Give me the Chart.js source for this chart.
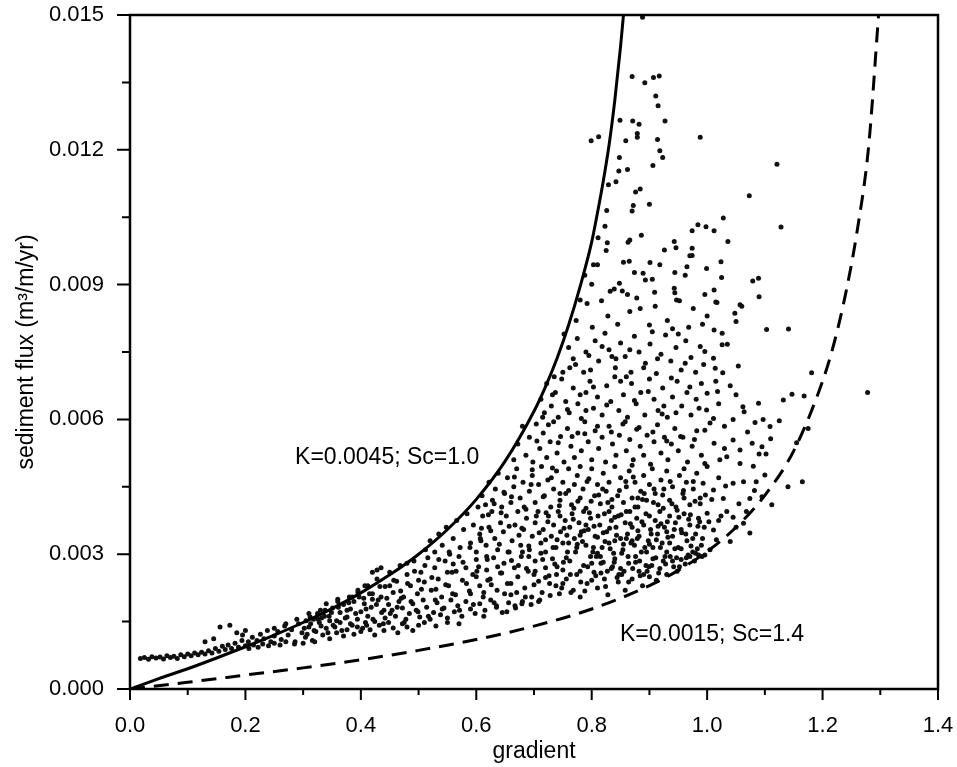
<!DOCTYPE html>
<html>
<head>
<meta charset="utf-8">
<title>sediment flux vs gradient</title>
<script src="https://cdn.jsdelivr.net/npm/chart.js@4.4.1/dist/chart.umd.min.js"></script>
<style>
  html, body { margin: 0; padding: 0; background: #fff; }
  #wrap { width: 957px; height: 767px; }
</style>
</head>
<body>
<div id="wrap"><canvas id="chart" width="957" height="767"></canvas></div>
<script>
// axis ticks
const gradientTicks = [0, 0.2, 0.4, 0.6, 0.8, 1.0, 1.2, 1.4];
const fluxTicks = [0, 0.003, 0.006, 0.009, 0.012, 0.015];

// model curves, flux in 1e-3 m3/m/yr
const fastGradient = [0, 0.05, 0.1, 0.15, 0.2, 0.25, 0.3, 0.35, 0.4, 0.45, 0.5, 0.55, 0.6, 0.65, 0.7, 0.72, 0.74, 0.76, 0.78, 0.8, 0.81, 0.82, 0.83, 0.84, 0.85, 0.855];
const fastFlux = [0, 0.23, 0.45, 0.69, 0.94, 1.2, 1.48, 1.79, 2.14, 2.54, 3.0, 3.55, 4.22, 5.07, 6.18, 6.73, 7.36, 8.1, 8.96, 9.95, 10.6, 11.3, 12.1, 13.1, 14.3, 15.0];
const slowGradient = [0, 0.1, 0.2, 0.3, 0.4, 0.5, 0.6, 0.7, 0.8, 0.9, 0.95, 1.0, 1.05, 1.1, 1.15, 1.2, 1.22, 1.24, 1.26, 1.28, 1.297];
const slowFlux = [0, 0.15, 0.31, 0.47, 0.65, 0.86, 1.1, 1.4, 1.78, 2.3, 2.64, 3.06, 3.6, 4.31, 5.3, 6.85, 7.7, 8.8, 10.2, 12.1, 15.0];

// measured points [gradient, flux in 1e-3 m3/m/yr]
const observed = [
  // sparse top
  [0.888,14.95],[0.870,13.63],[0.892,13.49],[0.907,13.61],[0.917,13.64],[0.911,13.2],[0.915,12.98],[0.849,12.66],[0.871,12.64],[0.882,12.57],
  [0.927,12.64],[0.799,12.2],[0.812,12.29],[0.859,12.2],[0.879,12.36],[0.879,12.28],[0.914,12.23],[0.988,12.28],[0.918,11.98],[0.923,11.83],
  [0.848,11.83],[0.847,11.53],[0.862,11.56],[0.906,11.65],[1.121,11.68],[0.829,11.22],[0.842,11.29],[0.876,11.06],[0.884,11.13],[1.073,10.98],
  [0.826,10.65],[0.870,10.64],[0.872,10.76],[0.900,10.79],[0.823,10.3],[1.028,10.48],[0.984,10.33],[0.998,10.29],[1.012,10.2],[1.128,10.28],
  [0.811,10.04],[0.827,9.93],[0.866,9.99],[0.863,9.94],[0.886,10.1],[0.943,9.96],[0.946,9.82],[0.974,10.2],[0.974,9.81],[0.974,9.65],
  [1.036,9.96],[0.926,9.77],[0.825,9.76],
  // 9 - 10
  [0.803,9.44],[0.855,9.5],[0.865,9.52],[0.901,9.49],[0.918,9.44],[0.965,9.4],[0.999,9.36],[1.024,9.51],[0.97,9.64],[0.874,9.27],
  [0.889,9.25],[0.893,9.1],[0.905,9.12],[0.944,9.27],[0.962,9.21],[1.025,9.16],[1.079,9.08],[1.089,9.14],[0.810,9.44],[0.788,9.21],
  [0.800,9.01],[0.848,9.03],[0.839,8.9],[0.853,8.86],[0.909,8.83],[0.943,8.92],[0.944,8.82],[0.996,8.78],[1.012,8.88],[1.09,8.73],[0.947,8.66],
  // 8 - 9
  [1.015,8.61],[1.06,8.52],[1.048,8.36],[1.05,8.18],[1.012,7.99],[1.026,7.92],[1.103,8.0],[1.141,8.01],
  [0.78,8.66],[0.792,8.58],[0.817,8.64],[0.828,8.3],[0.845,8.12],[0.866,8.4],[0.884,8.47],[0.878,8.7],[0.91,8.52],[0.931,8.2],
  [0.952,8.64],[0.976,8.47],[0.968,8.05],[1.0,8.3],[1.017,8.6],[1.057,8.55],[0.773,8.2],[0.801,8.05],[0.9,8.1],[0.94,8.02],[0.992,8.12],[0.832,8.85],[0.862,8.78],
  // 7 - 8
  [0.752,7.9],[0.76,7.6],[0.768,7.35],[0.775,7.8],[0.79,7.5],[0.798,7.1],[0.806,7.75],[0.812,7.3],[0.823,7.92],[0.83,7.55],
  [0.841,7.15],[0.85,7.7],[0.858,7.4],[0.868,7.05],[0.874,7.85],[0.882,7.5],[0.893,7.25],[0.901,7.68],[0.912,7.02],[0.92,7.45],
  [0.928,7.88],[0.937,7.3],[0.946,7.6],[0.955,7.1],[0.963,7.75],[0.972,7.38],[0.98,7.05],[0.988,7.62],[0.996,7.51],[1.011,7.36],
  [1.026,7.66],[1.035,7.67],[1.014,7.14],[1.027,7.04],[1.054,7.19],[0.905,7.95],[0.786,7.05],[0.762,7.15],[0.835,7.4],[0.95,7.9],[1.181,7.04],
  // 6 - 7
  [0.712,6.45],[0.718,6.15],[0.722,6.8],[0.73,6.3],[0.737,6.6],[0.742,6.05],[0.748,6.9],[0.755,6.4],[0.761,6.15],[0.768,6.7],
  [0.776,6.35],[0.782,6.02],[0.79,6.6],[0.797,6.85],[0.803,6.25],[0.81,6.5],[0.818,6.1],[0.826,6.75],[0.833,6.4],[0.84,6.95],
  [0.847,6.2],[0.855,6.55],[0.862,6.05],[0.869,6.8],[0.877,6.35],[0.885,6.6],[0.892,6.1],[0.9,6.9],[0.908,6.45],[0.915,6.2],
  [0.923,6.7],[0.931,6.05],[0.94,6.5],[0.948,6.85],[0.956,6.3],[0.965,6.6],[0.972,6.1],[0.981,6.45],[0.99,6.8],[1.0,6.58],
  [1.018,6.62],[1.04,6.75],[1.089,6.36],[1.062,6.28],[1.064,6.17],[0.999,6.21],[1.011,6.02],[1.045,6.0],[1.132,6.43],[1.147,6.56],
  [1.168,6.52],[0.735,6.95],[0.79,6.2],[0.86,6.95],[0.925,6.3],[1.02,6.35],[1.278,6.6],
  // 5 - 6
  [0.665,5.1],[0.672,5.45],[0.68,5.85],[0.686,5.2],[0.692,5.6],[0.698,5.05],[0.704,5.9],[0.71,5.35],[0.716,5.7],[0.722,5.15],
  [0.728,5.5],[0.734,5.95],[0.74,5.25],[0.746,5.62],[0.752,5.05],[0.758,5.8],[0.764,5.4],[0.77,5.15],[0.776,5.7],[0.782,5.3],
  [0.788,5.95],[0.794,5.5],[0.8,5.1],[0.806,5.75],[0.812,5.35],[0.818,5.6],[0.824,5.05],[0.83,5.85],[0.836,5.45],[0.842,5.2],
  [0.848,5.65],[0.854,5.9],[0.86,5.3],[0.866,5.55],[0.872,5.1],[0.878,5.78],[0.884,5.4],[0.89,5.2],[0.896,5.65],[0.902,5.0],
  [0.908,5.5],[0.914,5.88],[0.92,5.25],[0.926,5.6],[0.932,5.1],[0.938,5.45],[0.944,5.8],[0.95,5.3],[0.958,5.6],[0.966,5.05],
  [0.974,5.4],[0.982,5.75],[0.99,5.2],[0.996,5.76],[1.012,5.47],[1.045,5.54],[1.057,5.32],[1.078,5.47],[1.095,5.39],[1.11,5.57],
  [1.155,5.48],[1.09,5.23],[1.102,5.23],[0.996,5.02],[1.022,5.1],[1.034,5.17],[1.083,5.93],[1.097,6.0],[1.109,5.84],[1.125,5.97],
  [1.175,5.8],[1.03,5.85],
  [0.705,5.52],[0.715,6.05],[0.725,5.88],[0.732,6.55],[0.742,5.48],[0.75,7.05],[0.758,6.22],[0.766,5.62],[0.772,7.22],[0.78,6.55],
  [0.788,5.68],[0.795,7.42],[0.803,6.72],[0.81,5.85],[0.818,7.62],[0.826,6.32],[0.834,5.72],[0.842,7.35],[0.85,6.85],[0.858,5.95],
  [0.866,7.55],[0.874,6.42],[0.882,5.82],[0.89,7.15],[0.898,6.62],[0.906,5.72],[0.914,7.35],[0.922,6.12],[0.93,5.52],[0.938,6.92],
  [0.946,6.15],[0.954,5.62],[0.962,7.25],[0.97,6.72],[0.978,5.55],[0.986,6.25],[0.994,7.22],[1.005,5.92],[1.015,6.85],[1.03,5.35],
  [1.05,6.55],[1.07,5.72],
  // 4 - 5
  [0.603,4.05],[0.61,4.3],[0.616,4.1],[0.622,4.6],[0.628,4.2],[0.633,4.45],[0.638,4.8],[0.644,4.05],[0.649,4.35],[0.654,4.7],
  [0.66,4.15],[0.665,4.5],[0.67,4.9],[0.676,4.25],[0.681,4.6],[0.686,4.0],[0.692,4.4],[0.697,4.75],[0.702,4.15],[0.708,4.55],
  [0.713,4.95],[0.718,4.3],[0.724,4.65],[0.729,4.05],[0.734,4.45],[0.739,4.85],[0.745,4.2],[0.75,4.6],[0.755,4.35],[0.76,4.9],
  [0.765,4.1],[0.77,4.55],[0.775,4.75],[0.78,4.25],[0.785,4.45],[0.79,4.02],[0.795,4.68],[0.8,4.9],[0.805,4.3],[0.81,4.55],
  [0.815,4.12],[0.82,4.8],[0.825,4.4],[0.83,4.6],[0.835,4.05],[0.84,4.95],[0.845,4.3],[0.85,4.7],[0.855,4.15],[0.86,4.5],
  [0.865,4.85],[0.87,4.25],[0.875,4.6],[0.88,4.05],[0.885,4.4],[0.89,4.75],[0.895,4.2],[0.9,4.55],[0.905,4.9],[0.91,4.35],
  [0.915,4.1],[0.92,4.65],[0.925,4.45],[0.93,4.85],[0.935,4.2],[0.94,4.5],[0.946,4.05],[0.952,4.75],[0.958,4.35],[0.964,4.6],
  [0.97,4.1],[0.976,4.45],[0.982,4.8],[0.988,4.25],[0.993,4.58],[1.011,4.43],[1.028,4.24],[1.045,4.58],[1.063,4.61],[1.074,4.24],
  [1.095,4.28],[1.112,4.1],[1.14,4.5],[1.165,4.61],[1.1,4.76],[1.085,4.61],[1.08,4.96],[1.057,5.02],[1.0,4.95],[1.02,4.7],
  [0.78,4.95],[0.87,4.98],[0.73,4.7],[0.96,4.9],
  // 3 - 4
  [0.512,3.1],[0.52,3.3],[0.528,3.05],[0.535,3.45],[0.541,3.2],[0.548,3.6],[0.554,3.0],[0.56,3.35],[0.566,3.75],[0.572,3.15],
  [0.578,3.55],[0.584,3.9],[0.59,3.25],[0.595,3.65],[0.6,3.05],[0.606,3.45],[0.611,3.85],[0.617,3.2],[0.622,3.6],[0.627,3.95],
  [0.632,3.35],[0.637,3.1],[0.642,3.7],[0.647,3.5],[0.652,3.85],[0.657,3.05],[0.662,3.3],[0.667,3.65],[0.672,3.95],[0.677,3.2],
  [0.682,3.55],[0.687,3.8],[0.692,3.1],[0.697,3.4],[0.702,3.7],[0.707,3.95],[0.712,3.25],[0.716,3.55],[0.72,3.05],[0.725,3.85],
  [0.73,3.4],[0.734,3.65],[0.738,3.15],[0.742,3.95],[0.746,3.5],[0.75,3.25],[0.754,3.75],[0.758,3.05],[0.762,3.6],[0.766,3.9],
  [0.77,3.35],[0.774,3.15],[0.778,3.7],[0.782,3.5],[0.786,3.95],[0.79,3.2],[0.794,3.55],[0.798,3.8],[0.802,3.05],[0.806,3.4],
  [0.81,3.38],[0.814,3.65],[0.818,3.15],[0.822,3.9],[0.826,3.5],[0.83,3.25],[0.834,3.75],[0.838,3.02],[0.842,3.6],[0.846,3.85],
  [0.85,3.35],[0.854,3.1],[0.858,3.7],[0.862,3.45],[0.866,3.95],[0.87,3.6],[0.874,3.2],[0.878,3.8],[0.882,3.4],[0.886,3.05],
  [0.89,3.65],[0.894,3.9],[0.898,3.3],[0.902,3.55],[0.906,3.15],[0.91,3.75],[0.914,3.45],[0.918,3.95],[0.922,3.25],[0.926,3.6],
  [0.93,3.05],[0.935,3.85],[0.94,3.4],[0.945,3.7],[0.95,3.15],[0.955,3.55],[0.96,3.9],[0.965,3.3],[0.97,3.65],[0.975,3.05],
  [0.98,3.45],[0.985,3.8],[0.99,3.2],[0.995,3.6],[1.0,3.91],[1.011,3.54],[1.034,3.95],[1.04,3.28],[1.063,3.69],[1.074,3.47],
  [1.005,3.1],[1.02,3.75],[1.05,3.6],[0.608,3.3],[0.68,3.05],[0.745,3.85],[0.87,3.3],[0.93,3.5],[0.79,3.65],[0.84,3.3],
  // core, second pass
  [0.604,2.72],[0.609,3.58],[0.613,1.62],[0.618,2.95],[0.621,3.88],[0.626,2.32],[0.631,4.12],[0.635,1.85],[0.64,3.22],[0.644,2.58],
  [0.648,4.38],[0.653,1.72],[0.657,3.62],[0.661,2.86],[0.666,4.72],[0.67,2.15],[0.674,3.42],[0.679,1.9],[0.683,4.05],[0.687,2.68],
  [0.691,3.18],[0.695,4.55],[0.7,2.32],[0.704,3.85],[0.708,1.95],[0.712,3.02],[0.716,4.28],[0.72,2.48],[0.724,3.72],[0.728,2.08],
  [0.732,4.92],[0.736,2.78],[0.74,3.32],[0.744,4.08],[0.748,2.25],[0.752,3.58],[0.756,2.92],[0.76,4.42],[0.764,2.15],[0.768,3.78],
  [0.772,3.05],[0.776,4.18],[0.78,2.62],[0.784,3.28],[0.788,2.18],[0.792,4.62],[0.796,3.92],[0.8,2.42],[0.804,3.62],[0.808,2.95],
  [0.812,4.32],[0.816,2.58],[0.82,3.48],[0.824,2.28],[0.828,4.15],[0.832,3.12],[0.836,2.72],[0.84,3.82],[0.844,2.48],[0.848,4.42],
  [0.852,3.02],[0.856,2.62],[0.86,3.95],[0.864,2.38],[0.868,3.25],[0.872,4.72],[0.876,2.82],[0.88,3.52],[0.884,2.52],[0.888,4.22],
  [0.892,3.15],[0.896,2.62],[0.9,3.85],[0.904,2.75],[0.908,4.45],[0.912,3.32],[0.916,2.58],[0.92,3.68],[0.924,4.02],[0.928,2.78],
  [0.932,3.38],[0.936,4.62],[0.94,2.85],[0.944,3.12],[0.948,3.98],[0.952,2.72],[0.956,3.48],[0.96,4.25],[0.964,2.92],[0.968,3.78],
  [0.972,3.18],[0.976,4.62],[0.98,3.02],[0.984,3.62],[0.988,4.12],[0.992,3.35],[0.996,2.98],[1.003,3.72],[1.008,4.22],[1.016,3.32],
  [1.024,3.85],[1.032,4.52],[1.045,3.82],[1.055,4.12],[1.068,3.95],[1.082,4.42],
  [0.702,2.62],[0.709,3.48],[0.715,2.88],[0.721,3.92],[0.727,2.35],[0.733,3.15],[0.739,2.55],[0.745,4.35],[0.751,2.82],[0.757,3.42],
  [0.763,2.55],[0.769,4.02],[0.775,3.22],[0.781,2.38],[0.787,3.52],[0.793,2.72],[0.799,4.18],[0.803,3.15],[0.807,2.52],[0.811,3.85],
  [0.815,2.95],[0.819,4.45],[0.823,3.28],[0.827,2.62],[0.831,3.58],[0.835,4.22],[0.839,2.82],[0.843,3.42],[0.847,2.55],[0.851,3.88],
  [0.855,3.22],[0.859,4.62],[0.863,2.95],[0.867,3.68],[0.871,2.68],[0.875,4.05],[0.879,3.35],[0.883,2.85],[0.887,3.72],[0.891,4.35],
  [0.895,3.05],[0.899,2.72],[0.903,3.45],[0.907,4.15],[0.911,2.92],[0.915,3.62],[0.919,3.15],[0.923,4.32],[0.927,2.95],[0.931,3.72],
  [0.935,3.25],[0.939,4.12],[0.943,3.55],[0.947,2.92],[0.951,3.82],[0.955,3.12],[0.959,4.42],[0.963,3.45],[0.967,2.98],[0.971,3.88],
  [0.975,3.35],[0.979,4.18],[0.983,3.12],[0.987,3.72],[0.991,2.95],[0.997,4.32],[0.81,3.02],[0.82,2.82],[0.83,3.95],[0.86,3.35],
  [0.88,4.25],[0.9,3.22],[0.89,2.55],[0.85,2.68],[0.78,3.42],[0.76,3.25],[0.74,2.72],[0.72,3.32],
  // 2 - 3
  [0.385,2.05],[0.395,2.15],[0.405,2.02],[0.412,2.3],[0.42,2.12],[0.428,2.45],[0.435,2.05],[0.442,2.28],[0.45,2.6],[0.456,2.15],
  [0.462,2.4],[0.468,2.75],[0.474,2.05],[0.48,2.55],[0.486,2.3],[0.492,2.85],[0.498,2.12],[0.504,2.6],[0.51,2.38],[0.516,2.92],
  [0.522,2.2],[0.528,2.7],[0.534,2.45],[0.54,2.05],[0.546,2.85],[0.552,2.3],[0.558,2.6],[0.564,2.1],[0.57,2.95],[0.576,2.42],
  [0.582,2.7],[0.588,2.18],[0.594,2.55],[0.6,2.88],[0.606,2.3],[0.612,2.05],[0.618,2.65],[0.624,2.45],[0.63,2.92],[0.636,2.2],
  [0.642,2.58],[0.648,2.8],[0.654,2.35],[0.66,2.1],[0.666,2.7],[0.672,2.5],[0.678,2.95],[0.684,2.25],[0.69,2.62],[0.696,2.05],
  [0.702,2.85],[0.708,2.4],[0.714,2.15],[0.72,2.7],[0.726,2.52],[0.732,2.9],[0.738,2.3],[0.744,2.12],[0.75,2.65],[0.756,2.45],
  [0.762,2.85],[0.768,2.2],[0.774,2.55],[0.78,2.05],[0.786,2.75],[0.792,2.35],[0.798,2.95],[0.804,2.6],[0.81,2.25],[0.816,2.8],
  [0.822,2.45],[0.828,2.1],[0.834,2.68],[0.84,2.9],[0.846,2.38],[0.852,2.55],[0.858,2.2],[0.864,2.8],[0.87,2.45],[0.876,2.95],
  [0.882,2.62],[0.888,2.3],[0.894,2.75],[0.9,2.5],[0.906,2.9],[0.912,2.42],[0.918,2.68],[0.924,2.85],[0.93,2.55],[0.936,2.95],
  [0.942,2.72],[0.948,2.62],[0.955,2.88],[0.962,2.78],[0.97,2.95],[0.978,2.85],[0.985,2.98],[0.66,2.35],[0.7,2.55],[0.75,2.35],
  [0.8,2.8],[0.55,2.6],[0.6,2.5],[0.45,2.3],[0.48,2.8],
  // band between 0.3 and 0.7
  [0.302,1.35],[0.307,1.22],[0.313,1.45],[0.319,1.3],[0.326,1.55],[0.331,1.4],[0.337,1.62],[0.343,1.25],[0.349,1.7],[0.355,1.38],
  [0.361,1.82],[0.367,1.3],[0.373,1.58],[0.379,1.92],[0.385,1.42],[0.391,1.68],[0.397,2.05],[0.403,1.35],[0.409,1.78],[0.415,2.12],
  [0.421,1.55],[0.427,1.88],[0.433,2.28],[0.439,1.45],[0.445,2.02],[0.451,1.68],[0.457,2.42],[0.463,1.82],[0.469,2.18],[0.475,1.48],
  [0.481,2.35],[0.487,1.95],[0.493,2.62],[0.499,1.72],[0.505,2.22],[0.511,2.75],[0.517,1.62],[0.523,2.48],[0.529,1.98],[0.535,2.88],
  [0.541,1.78],[0.547,2.32],[0.553,3.05],[0.559,2.12],[0.565,2.62],[0.571,1.75],[0.577,2.82],[0.583,2.35],[0.589,3.15],[0.595,1.88],
  [0.601,2.62],[0.607,3.35],[0.613,2.15],[0.619,2.88],[0.625,3.52],[0.631,1.92],[0.637,2.72],[0.643,3.92],[0.649,2.12],[0.655,3.05],
  [0.661,4.28],[0.667,1.85],[0.673,2.75],[0.679,3.58],[0.685,2.05],[0.691,2.95],[0.697,4.88],[0.346,1.52],[0.376,1.75],[0.41,1.42],
  [0.44,1.75],[0.47,2.02],[0.5,2.42],[0.53,2.22],[0.56,2.78],[0.59,2.12],[0.62,2.42],
  // 1.5 - 2
  [0.305,1.52],[0.312,1.6],[0.318,1.55],[0.325,1.68],[0.332,1.58],[0.338,1.75],[0.345,1.62],[0.351,1.8],[0.358,1.52],[0.364,1.7],
  [0.37,1.88],[0.376,1.6],[0.382,1.78],[0.388,1.95],[0.394,1.55],[0.4,1.72],[0.406,1.9],[0.412,1.62],[0.418,1.82],[0.424,1.5],
  [0.43,1.98],[0.436,1.7],[0.442,1.58],[0.448,1.88],[0.454,1.75],[0.46,1.62],[0.466,1.95],[0.472,1.8],[0.478,1.55],[0.484,1.68],
  [0.49,1.9],[0.496,1.75],[0.502,1.6],[0.508,1.98],[0.514,1.82],[0.52,1.55],[0.526,1.7],[0.532,1.92],[0.538,1.65],[0.544,1.8],
  [0.55,1.58],[0.556,1.98],[0.562,1.72],[0.568,1.85],[0.575,1.62],[0.582,1.95],[0.59,1.78],[0.598,1.68],[0.606,1.9],[0.615,1.75],
  [0.625,1.98],[0.635,1.82],[0.645,1.7],[0.656,1.92],[0.668,1.8],[0.68,1.95],[0.695,1.88],[0.71,1.98],[0.34,1.9],[0.36,2.0],[0.42,2.0],
  // just above the solid curve
  [0.42,2.6],[0.428,2.65],[0.435,2.7],[0.407,2.3],[0.395,2.2],[0.38,2.05],[0.36,1.95],[0.33,1.75],[0.31,1.68],[0.289,1.55],[0.27,1.45],[0.25,1.35],
  // 1 - 1.5
  [0.205,1.05],[0.212,1.15],[0.22,1.08],[0.226,1.22],[0.232,1.12],[0.238,1.3],[0.244,1.05],[0.25,1.18],[0.256,1.28],[0.262,1.1],
  [0.268,1.4],[0.274,1.2],[0.28,1.32],[0.286,1.05],[0.292,1.45],[0.298,1.25],[0.304,1.15],[0.31,1.38],[0.316,1.08],[0.322,1.28],
  [0.328,1.48],[0.334,1.2],[0.34,1.35],[0.346,1.12],[0.352,1.42],[0.358,1.25],[0.364,1.48],[0.37,1.18],[0.376,1.32],[0.382,1.45],
  [0.388,1.22],[0.394,1.38],[0.4,1.28],[0.408,1.48],[0.416,1.32],[0.424,1.2],[0.432,1.42],[0.44,1.3],[0.448,1.48],[0.456,1.36],
  [0.464,1.25],[0.472,1.45],[0.48,1.38],[0.49,1.3],[0.5,1.42],[0.51,1.48],[0.53,1.4],[0.55,1.48],[0.57,1.45],
  // low strip
  [0.018,0.68],[0.025,0.7],[0.032,0.66],[0.038,0.72],[0.045,0.69],[0.052,0.71],[0.058,0.67],[0.064,0.74],[0.07,0.7],[0.076,0.73],
  [0.082,0.68],[0.088,0.76],[0.094,0.72],[0.1,0.78],[0.106,0.74],[0.112,0.8],[0.118,0.76],[0.124,0.82],[0.13,0.78],[0.136,0.85],
  [0.142,0.8],[0.148,0.9],[0.154,0.84],[0.16,0.95],[0.165,0.88],[0.17,0.98],[0.176,0.9],[0.182,1.02],[0.188,0.93],[0.194,1.08],
  [0.2,0.96],[0.206,0.9],[0.214,0.98],[0.222,0.93],[0.23,1.0],[0.24,0.96],[0.25,1.02],[0.26,0.98],[0.27,1.05],[0.285,1.0],
  [0.3,1.02],[0.32,1.05],[0.156,1.38],[0.173,1.42],[0.13,1.05],[0.145,1.12],[0.185,1.25],[0.195,1.2],[0.2,1.3]
];

// text placed on the plot, anchored at [gradient, flux]
const notes = [
  { text: 'K=0.0045; Sc=1.0', at: [0.286, 0.00514] },
  { text: 'K=0.0015; Sc=1.4', at: [0.849, 0.00120] }
];

const ink = '#000';
const fontFamily = '"Liberation Sans", Arial, Helvetica, sans-serif';
Chart.defaults.font.family = fontFamily;
Chart.defaults.color = ink;

const toPoints = (xs, ys) => xs.map((g, i) => ({ x: g, y: ys[i] / 1000 }));

// stop the tick-label padding from shrinking the plot area
const noEdgePadding = s => {
  s.paddingTop = 0;
  s.paddingBottom = 0;
  s.paddingLeft = 0;
  s.paddingRight = 0;
};

// frame, tick marks (major + minor) and curve labels
const frameAndTicks = {
  id: 'frameAndTicks',
  afterDraw(chart) {
    const { ctx, chartArea: a, scales: { x, y } } = chart;
    ctx.save();
    ctx.strokeStyle = ink;
    ctx.lineWidth = 2.5;
    ctx.strokeRect(a.left, a.top, a.right - a.left, a.bottom - a.top);
    ctx.lineWidth = 2;
    ctx.beginPath();
    for (let i = 0; i <= 14; i++) {
      const px = x.getPixelForValue(i / 10);
      const len = i % 2 === 0 ? 11 : 6;
      ctx.moveTo(px, a.bottom);
      ctx.lineTo(px, a.bottom + len);
    }
    for (let i = 0; i <= 10; i++) {
      const py = y.getPixelForValue(i * 0.0015);
      const len = i % 2 === 0 ? 13 : 8;
      ctx.moveTo(a.left, py);
      ctx.lineTo(a.left - len, py);
    }
    ctx.stroke();

    ctx.fillStyle = ink;
    ctx.font = '23px ' + fontFamily;
    ctx.textAlign = 'left';
    ctx.textBaseline = 'middle';
    notes.forEach(n => {
      ctx.fillText(n.text, x.getPixelForValue(n.at[0]), y.getPixelForValue(n.at[1]));
    });
    ctx.restore();
  }
};

new Chart(document.getElementById('chart'), {
  type: 'scatter',
  data: {
    datasets: [
      {
        label: 'K=0.0045; Sc=1.0',
        data: toPoints(fastGradient, fastFlux),
        showLine: true,
        borderColor: ink,
        borderWidth: 3,
        pointRadius: 0,
        cubicInterpolationMode: 'monotone'
      },
      {
        label: 'K=0.0015; Sc=1.4',
        data: toPoints(slowGradient, slowFlux),
        showLine: true,
        borderColor: ink,
        borderWidth: 3,
        borderDash: [15, 9],
        pointRadius: 0,
        cubicInterpolationMode: 'monotone'
      },
      {
        label: 'observed',
        data: observed.map(([g, f]) => ({ x: g, y: f / 1000 })),
        pointRadius: 2.5,
        pointBorderWidth: 0,
        backgroundColor: '#111'
      }
    ]
  },
  options: {
    responsive: false,
    animation: false,
    devicePixelRatio: 1,
    layout: { padding: { top: 15, right: 19, left: 0, bottom: 0 } },
    plugins: {
      legend: { display: false },
      tooltip: { enabled: false }
    },
    scales: {
      x: {
        type: 'linear',
        min: 0,
        max: 1.4,
        afterBuildTicks: s => { s.ticks = gradientTicks.map(v => ({ value: v })); },
        afterFit: s => { s.height = 78; noEdgePadding(s); },
        grid: { display: false, drawTicks: false },
        border: { display: false },
        ticks: {
          padding: 24,
          maxRotation: 0,
          autoSkip: false,
          color: ink,
          font: { size: 22 },
          callback: v => Number(v).toFixed(1)
        },
        title: {
          display: true,
          text: 'gradient',
          color: ink,
          font: { size: 23 },
          padding: { top: 0, bottom: 2 }
        }
      },
      y: {
        type: 'linear',
        min: 0,
        max: 0.015,
        afterBuildTicks: s => { s.ticks = fluxTicks.map(v => ({ value: v })); },
        afterFit: s => { s.width = 130; noEdgePadding(s); },
        grid: { display: false, drawTicks: false },
        border: { display: false },
        ticks: {
          padding: 26,
          autoSkip: false,
          color: ink,
          font: { size: 22 },
          callback: v => Number(v).toFixed(3)
        },
        title: {
          display: true,
          text: 'sediment flux (m³/m/yr)',
          color: ink,
          font: { size: 23 },
          padding: { top: 13, bottom: 0 }
        }
      }
    }
  },
  plugins: [frameAndTicks]
});
</script>
</body>
</html>
